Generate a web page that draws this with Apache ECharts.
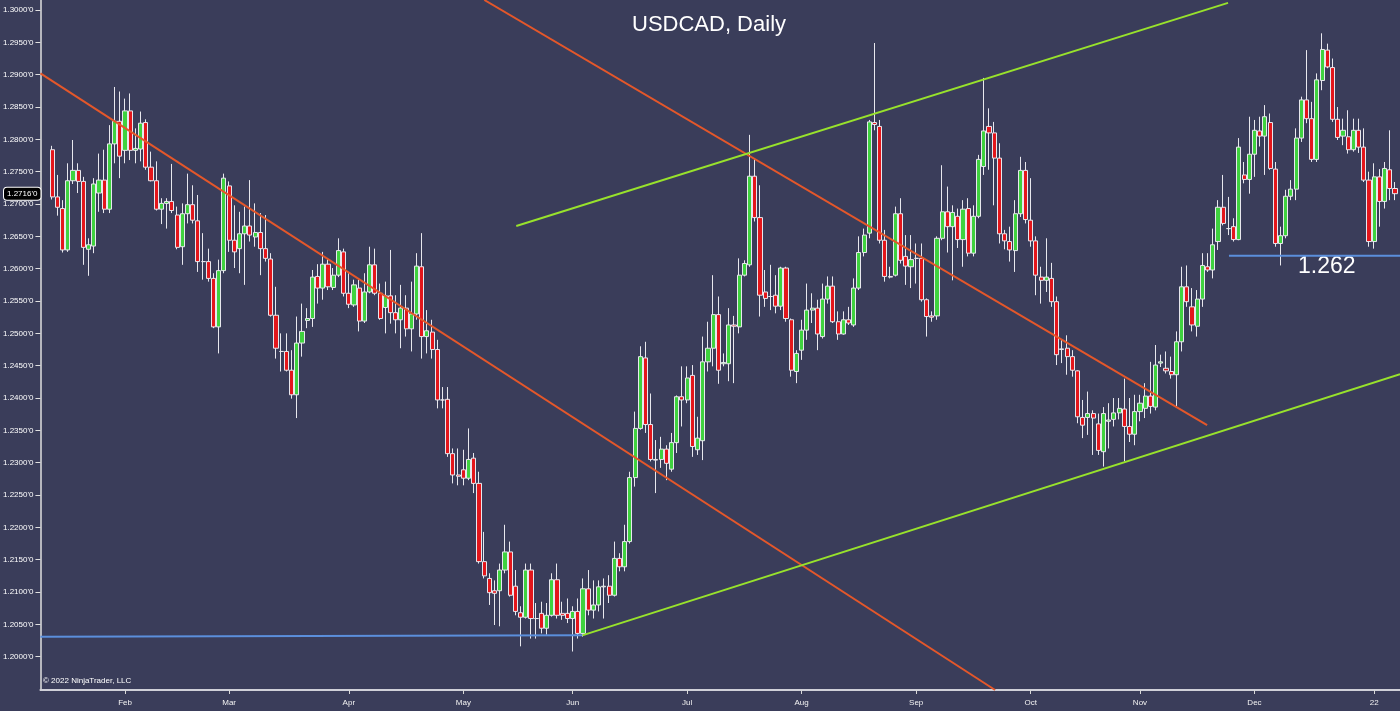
<!DOCTYPE html>
<html><head><meta charset="utf-8">
<script src="https://cdn.jsdelivr.net/npm/echarts@6/dist/echarts.min.js"></script>
<style>html,body{margin:0;padding:0;background:#3a3d5a;}#c{width:1400px;height:711px;}</style>
</head><body><div id="c"></div>
<script>
// ---- data ----
const startDate = '2021-01-12'; // first candle; one candle per weekday
const opens = [
1.2784,1.2711,1.2693,1.2629,1.2736,1.2752,1.2735,1.2630,1.2635,1.2717,
1.2737,1.2692,1.2793,1.2828,1.2783,1.2844,1.2783,1.2785,1.2826,1.2757,
1.2736,1.2692,1.2701,1.2704,1.2683,1.2634,1.2685,1.2699,1.2674,1.2611,
1.2611,1.2585,1.2510,1.2597,1.2728,1.2644,1.2631,1.2654,1.2666,1.2649,
1.2656,1.2631,1.2615,1.2528,1.2472,1.2472,1.2443,1.2405,1.2485,1.2520,
1.2523,1.2588,1.2570,1.2607,1.2571,1.2590,1.2626,1.2562,1.2544,1.2570,
1.2519,1.2564,1.2606,1.2562,1.2540,1.2558,1.2532,1.2521,1.2539,1.2507,
1.2530,1.2603,1.2495,1.2502,1.2475,1.2397,1.2398,1.2314,1.2281,1.2289,
1.2276,1.2307,1.2268,1.2147,1.2121,1.2102,1.2102,1.2134,1.2162,1.2109,
1.2068,1.2061,1.2134,1.2059,1.2067,1.2044,1.2064,1.2119,1.2067,1.2067,
1.2059,1.2070,1.2036,1.2105,1.2072,1.2080,1.2108,1.2109,1.2095,1.2152,
1.2139,1.2178,1.2277,1.2353,1.2462,1.2359,1.2305,1.2305,1.2321,1.2290,
1.2331,1.2402,1.2397,1.2435,1.2320,1.2334,1.2456,1.2477,1.2529,1.2453,
1.2453,1.2513,1.2510,1.2590,1.2606,1.2743,1.2679,1.2564,1.2557,1.2559,
1.2542,1.2601,1.2521,1.2441,1.2474,1.2505,1.2536,1.2539,1.2495,1.2553,
1.2573,1.2518,1.2499,1.2521,1.2513,1.2570,1.2625,1.2655,1.2826,1.2820,
1.2644,1.2588,1.2590,1.2685,1.2619,1.2603,1.2616,1.2616,1.2552,1.2527,
1.2527,1.2647,1.2688,1.2665,1.2681,1.2645,1.2693,1.2624,1.2681,1.2758,
1.2820,1.2810,1.2771,1.2654,1.2642,1.2628,1.2685,1.2752,1.2675,1.2643,
1.2587,1.2582,1.2585,1.2549,1.2475,1.2477,1.2464,1.2442,1.2370,1.2370,
1.2376,1.2360,1.2317,1.2364,1.2367,1.2377,1.2383,1.2356,1.2344,1.2379,
1.2384,1.2403,1.2386,1.2454,1.2446,1.2441,1.2436,1.2487,1.2572,1.2541,
1.2511,1.2553,1.2603,1.2598,1.2642,1.2695,1.2662,1.2665,1.2645,1.2745,
1.2738,1.2777,1.2813,1.2805,1.2826,1.2754,1.2639,1.2651,1.2712,1.2723,
1.2802,1.2861,1.2832,1.2769,1.2891,1.2938,1.2911,1.2831,1.2805,1.2804,
1.2784,1.2814,1.2788,1.2737,1.2642,1.2742,1.2704,1.2753,1.2724];
const closes = [
1.2711,1.2695,1.2629,1.2736,1.2752,1.2735,1.2633,1.2637,1.2731,1.2737,
1.2692,1.2793,1.2828,1.2774,1.2844,1.2783,1.2786,1.2825,1.2757,1.2736,
1.2692,1.2701,1.2704,1.2690,1.2633,1.2685,1.2699,1.2675,1.2611,1.2611,
1.2585,1.2510,1.2597,1.2740,1.2644,1.2626,1.2654,1.2666,1.2652,1.2656,
1.2631,1.2616,1.2528,1.2477,1.2472,1.2443,1.2405,1.2485,1.2503,1.2523,
1.2587,1.2570,1.2607,1.2572,1.2590,1.2628,1.2562,1.2545,1.2575,1.2519,
1.2564,1.2606,1.2562,1.2523,1.2558,1.2532,1.2521,1.2539,1.2507,1.2530,
1.2604,1.2495,1.2504,1.2475,1.2397,1.2397,1.2314,1.2281,1.2279,1.2276,
1.2305,1.2268,1.2147,1.2125,1.2099,1.2098,1.2134,1.2162,1.2095,1.2070,
1.2061,1.2134,1.2059,1.2059,1.2044,1.2064,1.2119,1.2064,1.2064,1.2059,
1.2070,1.2036,1.2105,1.2072,1.2080,1.2108,1.2109,1.2095,1.2152,1.2139,
1.2178,1.2277,1.2353,1.2464,1.2359,1.2305,1.2304,1.2321,1.2299,1.2331,
1.2402,1.2397,1.2431,1.2325,1.2338,1.2456,1.2477,1.2529,1.2443,1.2455,
1.2513,1.2511,1.2590,1.2608,1.2743,1.2679,1.2559,1.2554,1.2557,1.2542,
1.2601,1.2523,1.2443,1.2469,1.2505,1.2536,1.2539,1.2499,1.2553,1.2573,
1.2518,1.2499,1.2521,1.2516,1.2570,1.2625,1.2652,1.2827,1.2823,1.2644,
1.2588,1.2587,1.2685,1.2613,1.2604,1.2614,1.2616,1.2552,1.2526,1.2525,
1.2647,1.2688,1.2665,1.2687,1.2645,1.2692,1.2624,1.2681,1.2769,1.2813,
1.2810,1.2771,1.2654,1.2643,1.2629,1.2685,1.2752,1.2676,1.2643,1.2590,
1.2582,1.2587,1.2549,1.2467,1.2476,1.2464,1.2443,1.2371,1.2358,1.2376,
1.2369,1.2319,1.2376,1.2366,1.2377,1.2384,1.2356,1.2344,1.2379,1.2392,
1.2403,1.2387,1.2451,1.2456,1.2442,1.2436,1.2487,1.2572,1.2549,1.2513,
1.2553,1.2605,1.2598,1.2637,1.2695,1.2670,1.2662,1.2645,1.2788,1.2738,
1.2777,1.2814,1.2805,1.2835,1.2755,1.2639,1.2651,1.2712,1.2723,1.2802,
1.2861,1.2832,1.2769,1.2892,1.2939,1.2912,1.2831,1.2803,1.2814,1.2784,
1.2814,1.2788,1.2737,1.2642,1.2742,1.2704,1.2755,1.2724,1.2716];
const lows = [
1.2707,1.2682,1.2625,1.2626,1.2731,1.2717,1.2606,1.2589,1.2624,1.2688,
1.2686,1.2686,1.2763,1.2740,1.2763,1.2768,1.2763,1.2766,1.2753,1.2735,
1.2690,1.2669,1.2662,1.2686,1.2630,1.2606,1.2670,1.2670,1.2595,1.2583,
1.2580,1.2508,1.2469,1.2593,1.2626,1.2601,1.2593,1.2575,1.2642,1.2634,
1.2590,1.2611,1.2526,1.2461,1.2441,1.2441,1.2399,1.2369,1.2464,1.2508,
1.2510,1.2546,1.2552,1.2567,1.2567,1.2587,1.2557,1.2539,1.2541,1.2503,
1.2516,1.2562,1.2559,1.2521,1.2500,1.2515,1.2500,1.2477,1.2495,1.2472,
1.2521,1.2461,1.2469,1.2461,1.2384,1.2384,1.2309,1.2268,1.2265,1.2265,
1.2273,1.2253,1.2144,1.2121,1.2080,1.2049,1.2047,1.2129,1.2093,1.2064,
1.2016,1.2059,1.2028,1.2028,1.2036,1.2034,1.2062,1.2059,1.2057,1.2052,
1.2008,1.2028,1.2031,1.2064,1.2059,1.2070,1.2059,1.2083,1.2093,1.2132,
1.2132,1.2175,1.2263,1.2351,1.2346,1.2302,1.2253,1.2292,1.2273,1.2286,
1.2315,1.2356,1.2392,1.2309,1.2312,1.2304,1.2441,1.2449,1.2422,1.2449,
1.2426,1.2423,1.2500,1.2588,1.2603,1.2673,1.2526,1.2541,1.2536,1.2531,
1.2536,1.2518,1.2433,1.2423,1.2459,1.2490,1.2516,1.2474,1.2492,1.2546,
1.2516,1.2490,1.2498,1.2513,1.2510,1.2567,1.2619,1.2647,1.2814,1.2639,
1.2580,1.2585,1.2588,1.2608,1.2575,1.2570,1.2577,1.2549,1.2495,1.2518,
1.2521,1.2644,1.2625,1.2582,1.2632,1.2603,1.2619,1.2619,1.2678,1.2745,
1.2753,1.2698,1.2639,1.2630,1.2611,1.2595,1.2680,1.2670,1.2634,1.2559,
1.2546,1.2564,1.2541,1.2451,1.2454,1.2436,1.2433,1.2361,1.2338,1.2343,
1.2312,1.2312,1.2294,1.2322,1.2356,1.2367,1.2302,1.2332,1.2327,1.2364,
1.2369,1.2376,1.2381,1.2448,1.2438,1.2430,1.2387,1.2472,1.2541,1.2503,
1.2495,1.2541,1.2595,1.2585,1.2629,1.2667,1.2652,1.2642,1.2644,1.2732,
1.2716,1.2742,1.2789,1.2745,1.2753,1.2634,1.2605,1.2647,1.2706,1.2706,
1.2796,1.2825,1.2765,1.2765,1.2876,1.2910,1.2827,1.2799,1.2791,1.2778,
1.2781,1.2779,1.2734,1.2634,1.2631,1.2665,1.2693,1.2706,1.2706];
const highs = [
1.2790,1.2745,1.2706,1.2763,1.2799,1.2763,1.2742,1.2647,1.2740,1.2778,
1.2784,1.2822,1.2881,1.2874,1.2863,1.2871,1.2817,1.2843,1.2831,1.2781,
1.2766,1.2709,1.2709,1.2762,1.2696,1.2701,1.2747,1.2729,1.2714,1.2655,
1.2631,1.2593,1.2614,1.2747,1.2735,1.2698,1.2688,1.2696,1.2737,1.2701,
1.2686,1.2683,1.2624,1.2572,1.2500,1.2500,1.2474,1.2526,1.2546,1.2539,
1.2598,1.2607,1.2626,1.2616,1.2601,1.2647,1.2631,1.2593,1.2583,1.2583,
1.2593,1.2634,1.2631,1.2577,1.2580,1.2629,1.2559,1.2575,1.2559,1.2580,
1.2624,1.2655,1.2536,1.2521,1.2490,1.2417,1.2417,1.2322,1.2322,1.2320,
1.2353,1.2315,1.2286,1.2193,1.2129,1.2118,1.2144,1.2204,1.2178,1.2134,
1.2078,1.2144,1.2144,1.2083,1.2085,1.2083,1.2129,1.2144,1.2085,1.2090,
1.2078,1.2090,1.2121,1.2134,1.2118,1.2118,1.2121,1.2126,1.2178,1.2160,
1.2204,1.2286,1.2379,1.2480,1.2487,1.2407,1.2335,1.2340,1.2327,1.2346,
1.2404,1.2449,1.2449,1.2451,1.2371,1.2495,1.2518,1.2590,1.2557,1.2469,
1.2539,1.2527,1.2616,1.2613,1.2807,1.2771,1.2729,1.2598,1.2606,1.2590,
1.2603,1.2603,1.2523,1.2474,1.2521,1.2577,1.2562,1.2552,1.2577,1.2588,
1.2588,1.2534,1.2534,1.2541,1.2585,1.2650,1.2662,1.2830,1.2949,1.2830,
1.2660,1.2603,1.2696,1.2709,1.2652,1.2652,1.2639,1.2639,1.2554,1.2534,
1.2650,1.2760,1.2727,1.2698,1.2693,1.2706,1.2709,1.2698,1.2776,1.2895,
1.2848,1.2827,1.2794,1.2660,1.2665,1.2706,1.2773,1.2765,1.2740,1.2650,
1.2603,1.2647,1.2609,1.2557,1.2490,1.2497,1.2474,1.2443,1.2397,1.2410,
1.2381,1.2376,1.2386,1.2392,1.2400,1.2400,1.2430,1.2400,1.2405,1.2405,
1.2423,1.2456,1.2482,1.2467,1.2472,1.2464,1.2503,1.2603,1.2605,1.2570,
1.2567,1.2624,1.2624,1.2662,1.2706,1.2745,1.2711,1.2678,1.2802,1.2765,
1.2835,1.2830,1.2835,1.2853,1.2840,1.2765,1.2665,1.2722,1.2737,1.2817,
1.2866,1.2938,1.2858,1.2902,1.2964,1.2948,1.2925,1.2850,1.2832,1.2845,
1.2832,1.2832,1.2817,1.2750,1.2763,1.2754,1.2765,1.2814,1.2734];
const yTicks = [1.2000,1.2050,1.2100,1.2150,1.2200,1.2250,1.2300,1.2350,1.2400,1.2450,
  1.2500,1.2550,1.2600,1.2650,1.2700,1.2750,1.2800,1.2850,1.2900,1.2950,1.3000];
const lastPrice = 1.2716;
const levelText = '1.262';
const levelTextAt = [244.9, 1.2603];
// drawn lines: [candle index, price] end points
const redLine1 = [[-2.25, 1.2902], [181.17, 1.19485]];
const redLine2 = [[83.03, 1.30155], [221.9, 1.2358]];
const greenUpper = [[89.17, 1.2666], [225.92, 1.3011]];
const greenLower = [[101.85, 1.2033], [258.96, 1.2437]];
const blueLow = [[-2.25, 1.2031], [101.85, 1.2033]];
const blueHigh = [[226.1, 1.2620], [258.96, 1.2620]];

// ---- derived ----
const dates = [];
{ const d = new Date(startDate + 'T00:00:00Z');
  while (dates.length < opens.length) {
    const wd = d.getUTCDay();
    if (wd !== 0 && wd !== 6) dates.push(d.toISOString().slice(0, 10));
    d.setUTCDate(d.getUTCDate() + 1);
  } }
const monthNames = ['Jan','Feb','Mar','Apr','May','Jun','Jul','Aug','Sep','Oct','Nov','Dec'];
const monthIdx = [], monthLbl = {};
dates.forEach((s, i) => {
  if (i > 0 && s.slice(5, 7) !== dates[i - 1].slice(5, 7)) {
    monthIdx.push(i);
    const m = +s.slice(5, 7);
    monthLbl[i] = m === 1 ? s.slice(2, 4) : monthNames[m - 1];
  }
});
const candles = dates.map((s, i) => [i, opens[i], closes[i], lows[i], highs[i]]);

const FONT = 'Liberation Sans';
function trend(data, color) {
  return { type: 'line', data: data, showSymbol: false, symbol: 'none', silent: true,
    z: 5, lineStyle: { color: color, width: 2 }, clip: true };
}
const chart = echarts.init(document.getElementById('c'), null, { renderer: 'canvas' });
chart.setOption({
  backgroundColor: '#3a3d5a',
  animation: false,
  title: { text: 'USDCAD, Daily', left: 627, top: 9,
    textStyle: { color: '#ffffff', fontSize: 22, fontWeight: 'normal', fontFamily: FONT } },
  grid: { left: 40, right: 0, top: 0, bottom: 21 },
  xAxis: {
    type: 'value', min: -2.25, max: 258.96, splitLine: { show: false },
    axisLine: { show: true, onZero: false, lineStyle: { color: '#cfd0d8', width: 2 } },
    axisTick: { show: true, customValues: monthIdx, length: 4, lineStyle: { color: '#d8d8d8' } },
    axisLabel: { show: true, customValues: monthIdx, formatter: v => monthLbl[v] || '',
      color: '#f2f2f2', fontSize: 8, margin: 9, fontFamily: FONT }
  },
  yAxis: {
    type: 'value', min: 1.19485, max: 1.30155, splitLine: { show: false },
    axisLine: { show: true, onZero: false, lineStyle: { color: '#e0e0e0', width: 1.5 } },
    axisTick: { show: true, customValues: yTicks, length: 5, lineStyle: { color: '#e0e0e0' } },
    axisLabel: { customValues: yTicks, formatter: v => v.toFixed(4) + "'0",
      color: '#ffffff', fontSize: 8, margin: 7, fontFamily: FONT },
    axisPointer: { show: true, status: 'show', value: lastPrice, triggerTooltip: false,
      type: 'line', lineStyle: { opacity: 0 },
      label: { show: true, formatter: p => (+p.value).toFixed(4) + "'0", backgroundColor: '#000',
        borderColor: '#ffffff', borderWidth: 1, color: '#ffffff', fontSize: 8, padding: [2, 3],
        fontFamily: FONT, margin: 0 } }
  },
  axisPointer: { triggerOn: 'none' },
  graphic: [{ type: 'text', left: 43, top: 677,
    style: { text: '© 2022 NinjaTrader, LLC', fill: '#ffffff', fontSize: 8, fontFamily: FONT } }],
  series: [
    { type: 'candlestick', data: candles, encode: { x: 0, y: [1, 2, 3, 4] }, barWidth: 4.6,
      itemStyle: { color: '#3fd23f', color0: '#e3161b', borderColor: '#e8e8ee', borderColor0: '#e8e8ee',
        borderColorDoji: '#e8e8ee', borderWidth: 1 } },
    trend(redLine1, '#e4572a'),
    trend(redLine2, '#e4572a'),
    trend(greenUpper, '#98e22c'),
    trend(greenLower, '#98e22c'),
    trend(blueLow, '#5b8fdc'),
    Object.assign(trend(blueHigh, '#5b8fdc'), {
      markPoint: { symbol: 'circle', symbolSize: 0, silent: true,
        label: { show: true, position: 'inside', formatter: levelText, color: '#ffffff',
          fontSize: 23, fontFamily: FONT },
        data: [{ coord: levelTextAt }] } })
  ]
});
</script></body></html>
